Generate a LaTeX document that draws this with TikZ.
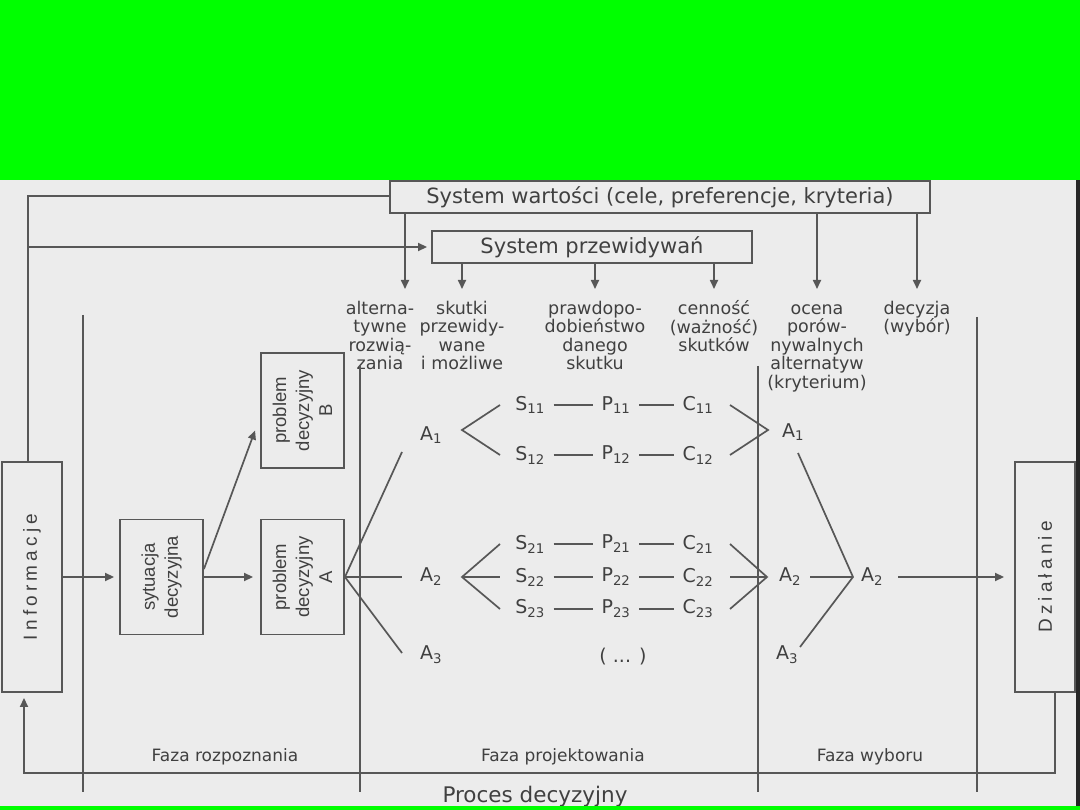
\documentclass[tikz,border=0pt]{standalone}
\usepackage{fontspec}
\setmainfont{DejaVu Sans}
\newfontfamily\narrowfont{Liberation Sans}
\newfontfamily\spacedfont{Liberation Sans}[LetterSpace=22]
\usetikzlibrary{arrows.meta}
\definecolor{ink}{HTML}{575757}
\definecolor{type}{HTML}{404040}
\definecolor{paper}{HTML}{ECECEC}
\definecolor{screen}{HTML}{00FF00}

\begin{document}
\begin{tikzpicture}[
  x=1pt, y=-1pt, color=ink, text=type, line width=1.7pt,
  box/.style={draw, line width=1.9pt, fill=paper, inner sep=0pt},
  sysbox/.style={box, minimum height=32pt, font=\fontsize{21}{24}\selectfont},
  vbox/.style={box, minimum width=83pt, minimum height=115pt},
  tallbox/.style={box, minimum width=60pt, minimum height=230pt},
  vtext/.style={rotate=90, align=center, font=\narrowfont\fontsize{18.5}{23}\selectfont},
  stext/.style={rotate=90, font=\spacedfont\fontsize{19}{22}\selectfont},
  colhead/.style={anchor=north, align=center, inner sep=0pt,
                  font=\fontsize{17.5}{18.5}\selectfont},
  sym/.style={inner sep=1pt, font=\fontsize{19}{21}\selectfont},
  phase/.style={font=\fontsize{17}{19}\selectfont},
  arr/.style={-{Triangle[length=9pt,width=8pt]}},
  stopgap/.style={shorten >=5pt},
  link/.style={shorten <=7pt, shorten >=7pt},
]
  \useasboundingbox (0,0) rectangle (1080,810);
  \fill[paper] (0,0) rectangle (1080,810);

  % Value system and prediction system (top)
  \node[sysbox, minimum width=540pt] (valsys) at (660,197) {System wartości (cele, preferencje, kryteria)};
  \node[sysbox, minimum width=320pt] (predsys) at (592,247) {System przewidywań};

  % column heads
  \node[colhead] (alt) at (380,300) {alterna-\\tywne\\rozwią-\\zania};
  \node[colhead] (skut) at (462,300) {skutki\\przewidy-\\wane\\i możliwe};
  \node[colhead] (praw) at (595,300) {prawdopo-\\dobieństwo\\danego\\skutku};
  \node[colhead] (cenn) at (714,300) {cenność\\(ważność)\\skutków};
  \node[colhead] (ocen) at (817,300) {\vphantom{l}ocena\\porów-\\nywalnych\\alternatyw\\(kryterium)};
  \node[colhead] (decy) at (917,300) {decyzja\\(wybór)};

  \coordinate (altin) at (405,289);
  \draw[arr] (valsys.south -| altin) -- (altin);
  \foreach \h/\s in {skut/predsys, praw/predsys, cenn/predsys, ocen/valsys, decy/valsys}
    \draw[arr, shorten >=11pt] (\s.south -| \h.north) -- (\h.north);

  % Recognition phase (LEFT)
  \node[tallbox, label={[stext]center:Informacje}] (info) at (32,577) {};
  \node[vbox, label={[vtext]center:sytuacja\\decyzyjna}] (sit) at (161.5,577) {};
  \node[vbox, label={[vtext]center:problem\\decyzyjny\\A}] (probA) at (302.5,577) {};
  \node[vbox, label={[vtext]center:problem\\decyzyjny\\B}] (probB) at (302.5,410.5) {};

  \coordinate (topL) at (28,196);
  \draw (info.north -| topL) -- (topL) -- (topL -| valsys.west);
  \draw[arr, shorten >=4pt] (topL |- predsys.west) -- (predsys.west);

  \draw[arr, stopgap] (info.east) -- (sit.west);
  \draw[arr, shorten >=7pt] (sit.east) -- (probA.west);
  \draw[arr] ([yshift=8pt]sit.east) -- ([shift={(-5,20)}]probB.west);

  % Design phase (MIDDLE)
  \node[sym] (a1) at (431,435) {A\textsubscript{1}};
  \node[sym] (a2) at (431,577) {A\textsubscript{2}};
  \node[sym] (a3) at (431,655) {A\textsubscript{3}};
  \draw (probA.east) -- ([shift={(-29,17)}]a1.center);
  \draw (probA.east) -- ([xshift=-29pt]a2.center);
  \draw (probA.east) -- ([shift={(-29,-2)}]a3.center);

  \foreach \r/\y in {11/405, 12/455, 21/544, 22/577, 23/609} {
    \node[sym] (s\r) at (530,\y) {S\textsubscript{\r}};
    \node[sym] (p\r) at (616,\y) {P\textsubscript{\r}};
    \node[sym] (c\r) at (698,\y) {C\textsubscript{\r}};
    \draw[link] (s\r) -- (p\r);
    \draw[link] (p\r) -- (c\r);
  }
  \node[sym] (etc) at (623,657) {( ... )};

  \draw ([xshift=-30pt]s11.center) -- ([shift={(31,-5)}]a1.center) -- ([xshift=-30pt]s12.center);
  \draw ([xshift=-30pt]s21.center) -- ([xshift=31pt]a2.center) -- ([xshift=-30pt]s23.center);
  \draw ([xshift=31pt]a2.center) -- ([xshift=-30pt]s22.center);

  % Choice phase (RIGHT)
  \node[sym] (b1) at (793,432) {A\textsubscript{1}};
  \node[sym] (b2) at (790,577) {A\textsubscript{2}};
  \node[sym] (b3) at (787,655) {A\textsubscript{3}};
  \node[sym] (best) at (872,577) {A\textsubscript{2}};
  \node[tallbox, label={[stext]center:Działanie}] (dzial) at (1045,577) {};

  \draw ([xshift=32pt]c11.center) -- ([shift={(-25,-2)}]b1.center) -- ([xshift=32pt]c12.center);
  \draw ([xshift=32pt]c21.center) -- ([xshift=-23pt]b2.center) -- ([xshift=32pt]c23.center);
  \draw ([xshift=32pt]c22.center) -- ([xshift=-23pt]b2.center);
  \draw ([shift={(5,21)}]b1.center) -- ([xshift=-19pt]best.center) -- ([shift={(13,-8)}]b3.center);
  \draw ([xshift=20pt]b2.center) -- ([xshift=-19pt]best.center);
  \draw[arr, shorten >=10pt] ([xshift=26pt]best.center) -- (dzial.west);

  % feedback loop and phase borders
  \coordinate (loopL) at (24,773);
  \draw[arr, stopgap] ([xshift=10pt]dzial.south) |- (loopL) -- (loopL |- info.south);
  \foreach \x/\t in {83/315, 360/365, 758/366, 977/317}
    \draw (\x,\t) -- (\x,792);

  \node[phase] (fz1) at (225,757) {Faza rozpoznania};
  \node[phase] (fz2) at (563,757) {Faza projektowania};
  \node[phase] (fz3) at (870,757) {Faza wyboru};
  \node[font=\fontsize{21.5}{24}\selectfont] (proc) at (535,797) {Proces decyzyjny};

  % screen frame
  \fill[screen] (0,0) rectangle (1080,180);
  \fill[screen] (0,806) rectangle (1080,810);
  \fill[black!85] (1076,180) rectangle (1080,806);
\end{tikzpicture}
\end{document}
